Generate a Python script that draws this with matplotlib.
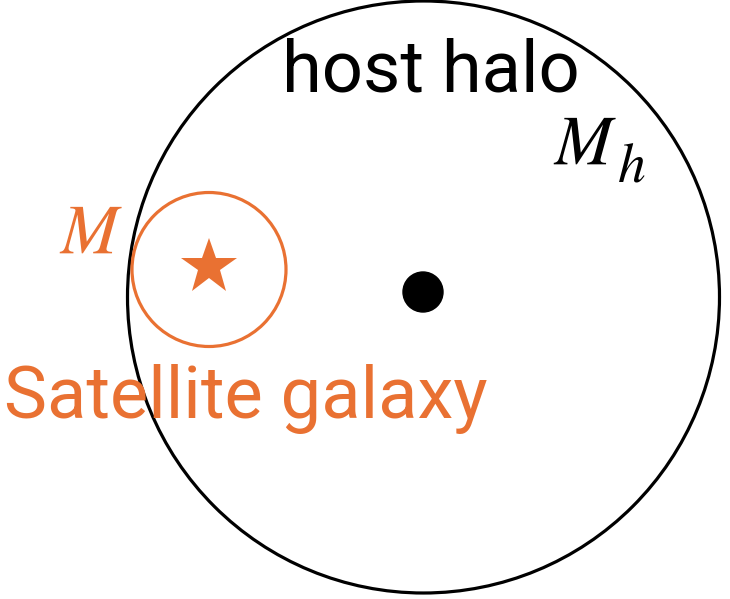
import matplotlib.pyplot as plt
from matplotlib.patches import Circle

# === Diagram elements (pixel coordinates of a 730x599 canvas) ===
orange = '#E97132'

host_center = (423.5, 297)
host_radius = 296
sat_center = (209, 269.5)
sat_radius = 77
star_pos = (209, 267)

host_label = 'host halo'
host_mass = (r'$M$', r'$h$')   # M_h, drawn as two pieces
sat_mass = r'$M$'
sat_label = 'Satellite galaxy'

plt.rcParams['mathtext.fontset'] = 'stix'

fig = plt.figure(figsize=(7.30, 5.99), dpi=100)
ax = fig.add_axes([0, 0, 1, 1])
ax.set_xlim(0, 730)
ax.set_ylim(599, 0)
ax.set_aspect('equal')
ax.axis('off')

# host halo
ax.add_patch(Circle(host_center, host_radius, fill=False, ec='black', lw=2.3))
ax.add_patch(Circle((423, 292), 20, color='black'))

# satellite
ax.add_patch(Circle(sat_center, sat_radius, fill=False, ec=orange, lw=2.3))
ax.plot(*star_pos, marker='*', color=orange, markersize=42, markeredgewidth=0)

# labels
ax.text(282, 92, host_label, fontsize=52, family='Roboto', color='black', va='baseline', ha='left')
ax.text(553, 164, host_mass[0], fontsize=50, color='black', va='baseline', ha='left')
ax.text(617, 181, host_mass[1], fontsize=40, color='black', va='baseline', ha='left')
ax.text(59, 253, sat_mass, fontsize=50, color=orange, va='baseline', ha='left')
ax.text(4, 418, sat_label, fontsize=52, family='Roboto', color=orange, va='baseline', ha='left')

fig.savefig('out.png', dpi=100)
